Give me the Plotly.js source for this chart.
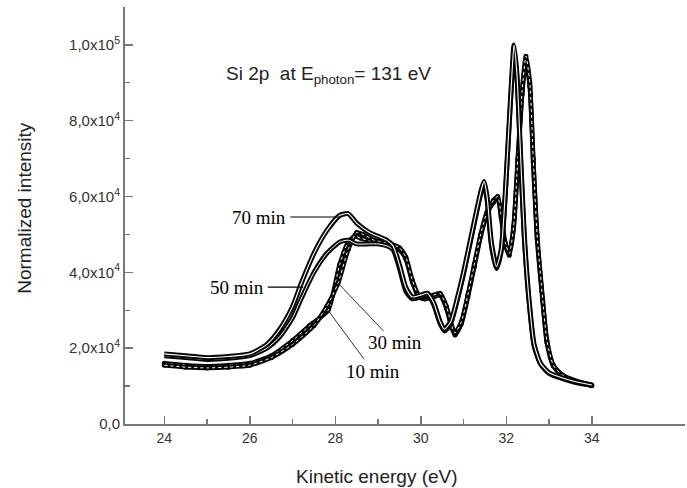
<!DOCTYPE html>
<html>
<head>
<meta charset="utf-8">
<script src="https://cdn.plot.ly/plotly-3.0.1.min.js"></script>
<style>html,body{margin:0;padding:0;background:#fff}#chart{width:687px;height:488px}</style>
</head>
<body>
<div id="chart"></div>
<script>
// Kinetic energy (eV) and normalized intensity for each sputtering time
const E70 = [24.0,24.5,25.0,25.5,26.0,26.4,26.7,27.0,27.2,27.5,27.8,28.1,28.3,28.5,28.8,29.0,29.2,29.35,29.5,29.65,29.8,30.0,30.15,30.3,30.45,30.55,30.7,30.85,31.0,31.15,31.3,31.42,31.48,31.55,31.65,31.77,31.88,31.97,32.05,32.12,32.18,32.25,32.33,32.42,32.53,32.65,32.8,33.0,33.3,33.6,34.0];
const I70 = [18500,18000,17500,17800,18500,21000,25000,31000,37000,45000,51000,55000,55500,53000,50500,49500,48500,47000,42000,36000,33500,34000,34500,32000,27000,25000,27000,33000,40000,48000,56000,62000,64000,60000,48000,41500,46000,60000,76000,90000,100000,92000,72000,50000,33000,21000,16000,13500,12200,11200,10300];

const E50 = [24.0,24.5,25.0,25.5,26.0,26.4,26.7,27.0,27.2,27.5,27.8,28.1,28.3,28.5,28.8,29.0,29.2,29.35,29.5,29.65,29.8,30.0,30.15,30.3,30.45,30.55,30.7,30.85,31.0,31.15,31.3,31.42,31.48,31.55,31.65,31.77,31.88,31.97,32.05,32.12,32.18,32.25,32.33,32.42,32.53,32.65,32.8,33.0,33.3,33.6,34.0];
const I50 = [18000,17500,17000,17300,18000,20000,23000,28000,33000,40000,45000,48000,48500,47500,47500,47500,47000,46000,41000,35000,33000,33500,34000,31500,26500,24500,26500,32500,39500,47500,55500,61500,63000,59000,47000,41000,45500,59000,75000,89000,98000,91000,71000,49000,32500,20500,15800,13300,12000,11000,10200];

const E30 = [24.0,24.5,25.0,25.5,26.0,26.5,27.0,27.5,27.8,28.06,28.3,28.5,28.65,28.9,29.1,29.3,29.5,29.65,29.8,29.95,30.1,30.3,30.45,30.6,30.72,30.8,30.95,31.1,31.25,31.4,31.55,31.7,31.8,31.88,31.97,32.07,32.17,32.27,32.37,32.46,32.55,32.63,32.72,32.85,32.95,33.1,33.3,33.6,34.0];
const I30 = [15500,15000,14800,15000,15500,17500,21000,26000,31000,37000,46000,50500,50000,48500,48000,47500,46500,44000,38000,34000,33500,34000,34500,31000,26000,24000,27000,34000,42000,50000,56000,59000,60000,55000,48000,45000,52000,70000,88000,97000,90000,70000,50000,33000,22000,15500,13000,11500,10300];

const E10 = [24.0,24.5,25.0,25.5,26.0,26.5,27.0,27.4,27.83,28.1,28.3,28.45,28.6,28.9,29.1,29.3,29.5,29.65,29.8,29.95,30.1,30.3,30.45,30.6,30.72,30.8,30.95,31.1,31.25,31.4,31.55,31.7,31.8,31.88,31.97,32.07,32.17,32.27,32.37,32.46,32.55,32.63,32.72,32.85,32.95,33.1,33.3,33.6,34.0];
const I10 = [16000,15500,15200,15500,16000,18000,22000,26000,30000,42000,48000,49500,49000,48000,47500,47000,46000,43500,37500,33500,33000,33500,34000,30500,25500,23500,26500,33500,41500,49500,55500,58500,59500,54500,47500,44500,51500,69000,87000,96000,89000,69000,49000,32500,21500,15300,12800,11300,10100];

const xTickVals = [24,26,28,30,32,34];
const xTickText = ["24","26","28","30","32","34"];
const xMinorVals = [25,27,29,31,33];
const yTickVals = [0,20000,40000,60000,80000,100000];
const yTickText = ["0,0","2,0x10<sup>4</sup>","4,0x10<sup>4</sup>","6,0x10<sup>4</sup>","8,0x10<sup>4</sup>","1,0x10<sup>5</sup>"];
const yMinorVals = [10000,30000,50000,70000,90000];
const seriesNames = ["70 min","50 min","30 min","10 min"];

const ink = "#050505";
const sm = {shape:"spline", smoothing:0.6};
function band(x, y, name, outer, inner, dash, marks) {
  const out = [{x:x, y:y, name:name, mode: marks ? "lines+markers" : "lines",
    line:Object.assign({color:ink, width:outer}, sm), marker:{size:5, color:ink}}];
  out.push({x:x, y:y, name:name, mode:"lines", hoverinfo:"skip",
    line:Object.assign({color:"#fff", width:inner, dash:dash}, sm)});
  return out;
}
const traces = [].concat(
  band(E10, I10, seriesNames[3], 4.6, 1.0, "dot", true),
  band(E30, I30, seriesNames[2], 4.6, 1.0, "dot", true),
  band(E50, I50, seriesNames[1], 4.8, 1.0, "solid", false),
  band(E70, I70, seriesNames[0], 5.0, 1.1, "solid", false)
);

const labelFont = {family:"Liberation Serif, Times New Roman, serif", size:19, color:"#000"};
const sansTitle = {family:"Liberation Sans, Arial, sans-serif", size:19, color:"#222"};
const annotations = [
  {x:27.83, y:92100, xref:"x", yref:"y", text:"Si 2p  at E<sub>photon</sub>= 131 eV", showarrow:false, font:{family:"Liberation Sans, Arial, sans-serif", size:19, color:"#222"}},
  {x:28.13, y:54600, xref:"x", yref:"y", text:seriesNames[0], showarrow:true, arrowhead:0, arrowwidth:1.2, arrowcolor:"#000", ax:-82, ay:0, borderpad:4, font:labelFont},
  {x:27.25, y:36100, xref:"x", yref:"y", text:seriesNames[1], showarrow:true, arrowhead:0, arrowwidth:1.2, arrowcolor:"#000", ax:-66, ay:0, borderpad:3, font:labelFont},
  {x:28.06, y:37200, xref:"x", yref:"y", text:seriesNames[2], showarrow:true, arrowhead:0, arrowwidth:1, arrowcolor:"#333", ax:57, ay:60, borderpad:1, font:labelFont},
  {x:27.83, y:30000, xref:"x", yref:"y", text:seriesNames[3], showarrow:true, arrowhead:0, arrowwidth:1, arrowcolor:"#333", ax:45, ay:61, borderpad:1, font:labelFont},
  {x:0.45, y:-0.127, xref:"paper", yref:"paper", xanchor:"center", yanchor:"middle", text:"Kinetic energy (eV)", showarrow:false, font:sansTitle},
  {x:-0.179, y:0.518, xref:"paper", yref:"paper", xanchor:"center", yanchor:"middle", text:"Normalized intensity", textangle:-90, showarrow:false, font:sansTitle}
];

const tickFont = {family:"Liberation Sans, Arial, sans-serif", size:14, color:"#333"};
const axisCommon = {
  showgrid:false, zeroline:false, showline:true, linecolor:"#777", linewidth:2,
  tickmode:"array", ticks:"inside", ticklen:8, tickwidth:1.5, tickcolor:"#777", tickfont:tickFont
};
const layout = {
  width:687, height:488,
  margin:{l:125, r:2, t:7, b:64},
  paper_bgcolor:"#fff", plot_bgcolor:"#fff",
  showlegend:false,
  xaxis:Object.assign({}, axisCommon, {
    range:[23.08, 36.18], tickvals:xTickVals, ticktext:xTickText,
    minor:{tickmode:"array", tickvals:xMinorVals, ticks:"inside", ticklen:5, tickwidth:1.2, tickcolor:"#777", showgrid:false}
  }),
  yaxis:Object.assign({}, axisCommon, {
    range:[0, 110000], tickvals:yTickVals, ticktext:yTickText,
    tickfont:{family:"Liberation Sans, Arial, sans-serif", size:15, color:"#333"},
    minor:{tickmode:"array", tickvals:yMinorVals, ticks:"inside", ticklen:5, tickwidth:1.2, tickcolor:"#777", showgrid:false}
  }),
  annotations:annotations
};

Plotly.newPlot("chart", traces, layout, {displayModeBar:false, staticPlot:true});
</script>
</body>
</html>
